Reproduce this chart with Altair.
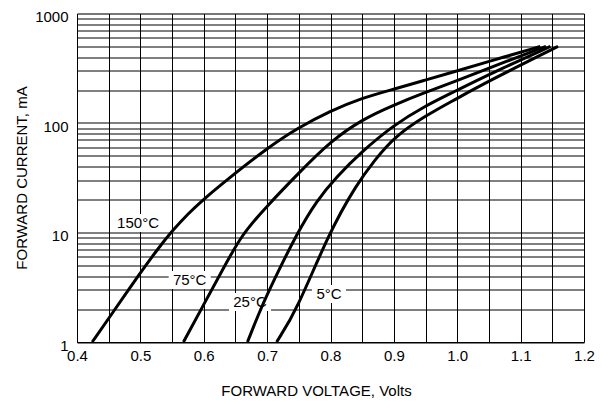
import altair as alt
import pandas as pd

# ---- data ----
v150 = [0.424, 0.45, 0.5, 0.53, 0.55, 0.575, 0.6, 0.634, 0.7, 0.748, 0.8, 0.848, 0.9, 0.948, 0.996, 1.046, 1.131]
i150 = [1.0, 1.64, 4.3, 7.4, 10.3, 14.8, 20.2, 29.5, 59, 90, 129, 168, 204, 245, 295, 359, 500]

v75 = [0.568, 0.6, 0.63, 0.66, 0.7, 0.75, 0.8, 0.85, 0.9, 0.948, 0.996, 1.046, 1.14]
i75 = [1.0, 2.2, 4.6, 9.6, 17.5, 35, 68, 108, 146, 189, 238, 312, 500]

v25 = [0.669, 0.689, 0.71, 0.747, 0.778, 0.809, 0.848, 0.9, 0.948, 0.996, 1.046, 1.147]
i25 = [1.0, 1.96, 3.6, 9.8, 19.5, 32, 54, 96, 142, 194, 272, 500]

v5 = [0.715, 0.747, 0.797, 0.842, 0.87, 0.9, 0.948, 0.996, 1.046, 1.159]
i5 = [1.0, 1.96, 9.8, 28, 46, 74, 115, 163, 236, 500]

series_names = ["150°C", "75°C", "25°C", "5°C"]

label_text = ["150°C", "75°C", "25°C", "5°C"]
label_v = [0.4963, 0.5778, 0.673, 0.7976]
label_i = [12.2, 3.68, 2.32, 2.74]
label_halfwidth = [25, 21, 21, 17]

x_grid = [0.4, 0.45, 0.5, 0.55, 0.6, 0.65, 0.7, 0.75, 0.8, 0.85, 0.9, 0.95,
          1.0, 1.05, 1.1, 1.15, 1.2]
y_grid = [1, 2, 3, 4, 5, 6, 7, 8, 9, 10, 20, 30, 40, 50, 60, 70, 80, 90,
          100, 200, 300, 400, 500, 600, 700, 800, 900, 1000]

# ---- tables ----
rows = []
for name, vs, is_ in zip(series_names, [v150, v75, v25, v5], [i150, i75, i25, i5]):
    for v, i in zip(vs, is_):
        rows.append({"series": name, "V": v, "I": i})
curves = pd.DataFrame(rows)

labels = pd.DataFrame({"text": label_text, "V": label_v, "I": label_i, "hw": label_halfwidth})

FONT = "Liberation Sans, Arial, sans-serif"

x_scale = alt.Scale(domain=[0.4, 1.2], nice=False, zero=False)
y_scale = alt.Scale(type="log", domain=[1, 1000], nice=False)

x_axis = alt.Axis(
    values=x_grid,
    format=".1f",
    labelExpr="round(datum.value*20) % 2 == 0 ? format(datum.value, '.1f') : ''",
    title="FORWARD  VOLTAGE, Volts",
    grid=True, gridColor="#000000", gridOpacity=1, gridWidth=1,
    ticks=False, tickSize=0, labelPadding=6, labelFlush=False,
    domainColor="#000000", domainWidth=1,
    labelFont=FONT, labelFontSize=15, labelColor="#000000",
    titleFont=FONT, titleFontSize=15, titleFontWeight="normal", titleColor="#000000",
    titleX=239, titleY=53, titleBaseline="alphabetic", titleAlign="center",
)
y_axis = alt.Axis(
    values=y_grid,
    format="d",
    labelExpr="(datum.value == 1 || datum.value == 10 || datum.value == 100 || datum.value == 1000) ? format(datum.value, 'd') : ''",
    title="FORWARD CURRENT, mA",
    grid=True, gridColor="#000000", gridOpacity=1, gridWidth=1,
    ticks=False, tickSize=0, labelPadding=9, labelFlush=False, labelOffset=3,
    domainColor="#000000", domainWidth=1,
    labelFont=FONT, labelFontSize=15, labelColor="#000000",
    titleFont=FONT, titleFontSize=15, titleFontWeight="normal", titleColor="#000000",
    titleX=-56, titleY=164, titleAngle=270, titleBaseline="middle", titleAlign="center",
)

X = alt.X("V:Q", scale=x_scale, axis=x_axis)
Y = alt.Y("I:Q", scale=y_scale, axis=y_axis)

layers = []
for k in range(len(label_text)):
    hw = label_halfwidth[k]
    box = alt.Chart(labels.iloc[[k]]).mark_rect(
        fill="white", xOffset=-hw, x2Offset=hw, yOffset=-9, y2Offset=9
    ).encode(x=X, x2="V:Q", y=Y, y2="I:Q")
    layers.append(box)

text = alt.Chart(labels).mark_text(
    font="Liberation Sans Narrow, Arial Narrow, sans-serif", fontSize=15,
    color="#000000", align="center", baseline="middle"
).encode(x=X, y=Y, text="text:N")
layers.append(text)

lines = alt.Chart(curves).mark_line(
    color="#000000", strokeWidth=3, interpolate="basis"
).encode(x=X, y=Y, detail="series:N")
layers.append(lines)

chart = alt.layer(*layers).properties(
    width=507, height=328.5,
    autosize=alt.AutoSizeParams(type="none"),
    padding={"left": 69, "top": 5.5, "right": 12, "bottom": 57},
).configure_view(stroke="#000000", strokeWidth=1).configure(background="white")

chart.save("out.html", embed_options={"renderer": "svg", "actions": False})
